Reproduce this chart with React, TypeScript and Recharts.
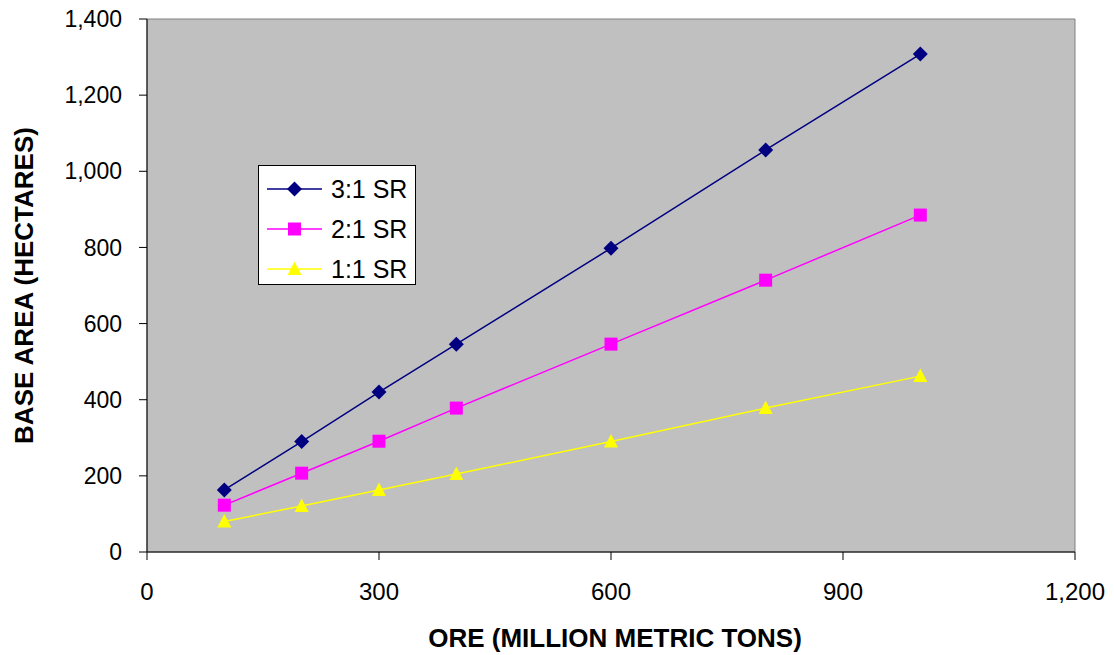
import { LineChart, Line, XAxis, YAxis, ReferenceArea, Label } from 'recharts'

const ore = [100, 200, 300, 400, 600, 800, 1000]
const sr3 = [163, 290, 420, 546, 798, 1056, 1308]
const sr2 = [123, 207, 291, 378, 546, 714, 885]
const sr1 = [80, 121, 163, 205, 290, 378, 462]
const xTicks = [0, 300, 600, 900, 1200]
const yTicks = [0, 200, 400, 600, 800, 1000, 1200, 1400]

const data = ore.map((x, i) => ({ ore: x, sr3: sr3[i], sr2: sr2[i], sr1: sr1[i] }))

const FONT = '"Liberation Sans", Arial, sans-serif'
const fmt = (v: number) => v.toLocaleString('en-US')

type Shape = 'diamond' | 'square' | 'triangle'

const marker = (shape: Shape, cx: number, cy: number, color: string, key?: string) => {
  if (shape === 'diamond') {
    const r = 7.5
    return <path key={key} d={`M${cx},${cy - r}L${cx + r},${cy}L${cx},${cy + r}L${cx - r},${cy}Z`} fill={color} />
  }
  if (shape === 'square') {
    return <rect key={key} x={cx - 6.5} y={cy - 6.5} width={13} height={13} fill={color} />
  }
  return <path key={key} d={`M${cx},${cy - 7.5}L${cx + 7},${cy + 6}L${cx - 7},${cy + 6}Z`} fill={color} />
}

const makeDot = (shape: Shape, color: string) => (props: any) =>
  marker(shape, props.cx, props.cy, color, `${shape}-${props.index}`)

const series = [
  { key: 'sr3', name: '3:1 SR', color: '#000080', shape: 'diamond' as Shape },
  { key: 'sr2', name: '2:1 SR', color: '#FF00FF', shape: 'square' as Shape },
  { key: 'sr1', name: '1:1 SR', color: '#FFFF00', shape: 'triangle' as Shape },
]

// legend box overlaid on the plot, like the original
const LegendBox = () => (
  <div style={{
    position: 'absolute', left: 258, top: 165, width: 158, height: 120,
    background: '#fff', border: '1px solid #000', boxSizing: 'border-box',
    padding: '3px 0 0 8px', fontFamily: FONT,
  }}>
    {series.map(s => (
      <div key={s.key} style={{ display: 'flex', alignItems: 'center', height: 40 }}>
        <svg width={56} height={20}>
          <line x1={0} y1={10} x2={55} y2={10} stroke={s.color} strokeWidth={1.5} />
          {marker(s.shape, 27.5, 10, s.color)}
        </svg>
        <span style={{ fontSize: 25, color: '#000', marginLeft: 8 }}>{s.name}</span>
      </div>
    ))}
  </div>
)

export default function App() {
  return (
    <div style={{ position: 'absolute', left: 0, top: 0, width: 1114, height: 655, background: '#fff' }}>
      <LineChart width={1114} height={655} data={data} margin={{ top: 19, right: 39, bottom: 43, left: 57 }}>
        <ReferenceArea x1={0} x2={1200} y1={0} y2={1400} fill="#c0c0c0" fillOpacity={1} stroke="#808080" strokeWidth={1} />
        <XAxis
          dataKey="ore" type="number" domain={[0, 1200]} ticks={xTicks} tickFormatter={fmt}
          height={60} stroke="#000" tickSize={8} tickMargin={23}
          tick={{ fill: '#000', fontSize: 24, fontFamily: FONT }}
        >
          <Label value="ORE (MILLION METRIC TONS)" position="insideBottom" offset={-35} dx={4}
            style={{ fontSize: 26, fontWeight: 'bold', fontFamily: FONT, fill: '#000' }} />
        </XAxis>
        <YAxis
          type="number" domain={[0, 1400]} ticks={yTicks} tickFormatter={fmt}
          width={90} stroke="#000" tickSize={8} tickMargin={17}
          tick={{ fill: '#000', fontSize: 23, fontFamily: FONT }}
        >
          <Label value="BASE AREA (HECTARES)" angle={-90} position="insideLeft" offset={-33}
            style={{ fontSize: 26, fontWeight: 'bold', fontFamily: FONT, fill: '#000', textAnchor: 'middle' }} />
        </YAxis>
        {series.map(s => (
          <Line key={s.key} dataKey={s.key} name={s.name} stroke={s.color} strokeWidth={1.5}
            dot={makeDot(s.shape, s.color)} activeDot={false} isAnimationActive={false} />
        ))}
      </LineChart>
      <LegendBox />
    </div>
  )
}
